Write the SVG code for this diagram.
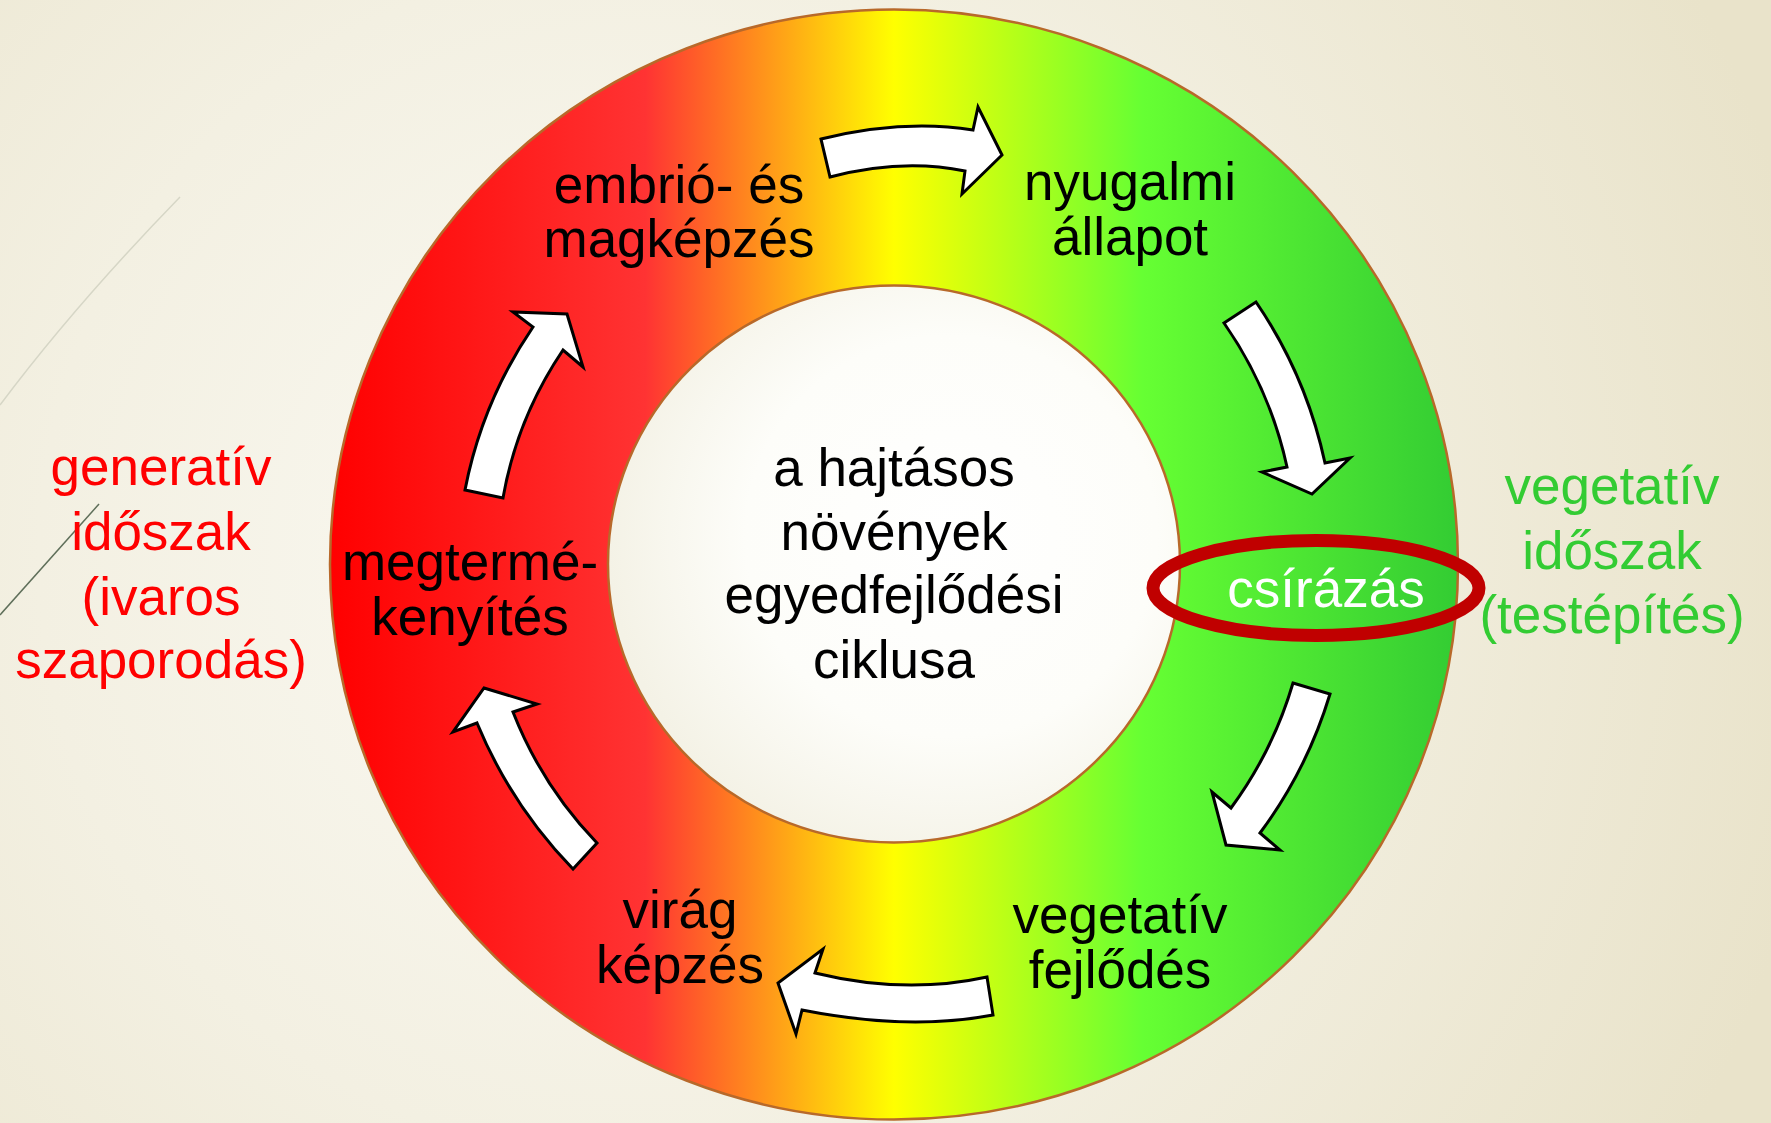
<svg xmlns="http://www.w3.org/2000/svg" width="1771" height="1123" viewBox="0 0 1771 1123">
<defs>
<radialGradient id="bg" cx="640" cy="560" r="1200" gradientUnits="userSpaceOnUse">
<stop offset="0" stop-color="#FBFAF4"/>
<stop offset="0.5" stop-color="#F3F0E2"/>
<stop offset="1" stop-color="#E9E3CA"/>
</radialGradient>
<linearGradient id="ringGrad" x1="329" y1="0" x2="1459" y2="0" gradientUnits="userSpaceOnUse">
<stop offset="0" stop-color="#FF0000"/>
<stop offset="0.28" stop-color="#FF3333"/>
<stop offset="0.5" stop-color="#FFFF00"/>
<stop offset="0.72" stop-color="#66FF33"/>
<stop offset="1" stop-color="#33CC33"/>
</linearGradient>
<radialGradient id="innerGrad" cx="0.6" cy="0.45" r="0.6">
<stop offset="0" stop-color="#FFFFFF"/>
<stop offset="0.6" stop-color="#FDFDF9"/>
<stop offset="1" stop-color="#F4F2E6"/>
</radialGradient>
</defs>
<style>
.lbl{font-family:"Liberation Sans",Arial,sans-serif;font-size:53px;text-anchor:middle;fill:#000000}
.red{fill:#FF0000}
.grn{fill:#33CC33}
.wht{fill:#FFFFFF}
.arrow{fill:#FFFFFF;stroke:#000000;stroke-width:3;stroke-linejoin:miter}
.edge{stroke:#B8692A;stroke-width:2.5}
</style>
<rect x="0" y="0" width="1771" height="1123" fill="url(#bg)"/>
<path d="M180,197 Q75,305 0,405" fill="none" stroke="#D6D6C6" stroke-width="1.5"/>
<path d="M99,504 L0,615" fill="none" stroke="#5F6F5A" stroke-width="1.5"/>

<g id="ring">
<ellipse cx="894" cy="564.5" rx="564" ry="555" fill="url(#ringGrad)" class="edge"/>
<ellipse cx="894" cy="564" rx="286" ry="278.5" fill="url(#innerGrad)" class="edge"/>
</g>

<g id="connectors">
<path class="arrow" d="M821,139 Q903,119 973,130 L978,107 L1002,155 L962,194 L965,171 Q902,158 830,177 Z"/>
<path class="arrow" d="M1224,323 L1256,302 Q1306,375 1325,463 L1350,458 L1312,494 L1262,472 L1287,467 Q1270,389 1224,323 Z"/>
<path class="arrow" d="M1293,683 L1330,694 Q1307,770 1260,833 L1280,850 L1226,845 L1212,792 L1231,808 Q1273,751 1293,683 Z"/>
<path class="arrow" d="M987,977 L993,1015 Q908,1031 802,1010 L796,1034 L778,983 L823,949 L815,973 Q905,995 987,977 Z"/>
<path class="arrow" d="M484,688 L537,704 L513,712 Q542,786 597,843 L573,869 Q511,805 477,723 L453,732 Z"/>
<path class="arrow" d="M465,490 L503,498 Q517,418 563,350 L583,367 L567,314 L513,312 L533,327 Q482,402 465,490 Z"/>
</g>

<g id="center-title">
<text class="lbl" x="894" y="486">a hajtásos</text>
<text class="lbl" x="894" y="550">növények</text>
<text class="lbl" x="894" y="613">egyedfejlődési</text>
<text class="lbl" x="894" y="678">ciklusa</text>
</g>

<g id="node-embrio">
<text class="lbl" x="679" y="203">embrió- és</text>
<text class="lbl" x="679" y="257">magképzés</text>
</g>

<g id="node-nyugalmi">
<text class="lbl" x="1130" y="200">nyugalmi</text>
<text class="lbl" x="1130" y="255">állapot</text>
</g>

<g id="node-csirazas">
<ellipse cx="1316" cy="588" rx="163" ry="47.5" fill="none" stroke="#C00000" stroke-width="13"/>
<text class="lbl wht" x="1326" y="607">csírázás</text>
</g>

<g id="node-vegetativ-fejlodes">
<text class="lbl" x="1120" y="933">vegetatív</text>
<text class="lbl" x="1120" y="988">fejlődés</text>
</g>

<g id="node-virag">
<text class="lbl" x="680" y="928">virág</text>
<text class="lbl" x="680" y="983">képzés</text>
</g>

<g id="node-megtermekenyites">
<text class="lbl" x="470" y="580">megtermé-</text>
<text class="lbl" x="470" y="635">kenyítés</text>
</g>

<g id="label-generativ">
<text class="lbl red" x="161" y="485">generatív</text>
<text class="lbl red" x="161" y="550">időszak</text>
<text class="lbl red" x="161" y="615">(ivaros</text>
<text class="lbl red" x="161" y="678">szaporodás)</text>
</g>

<g id="label-vegetativ">
<text class="lbl grn" x="1612" y="504">vegetatív</text>
<text class="lbl grn" x="1612" y="569">időszak</text>
<text class="lbl grn" x="1612" y="633">(testépítés)</text>
</g>
</svg>
